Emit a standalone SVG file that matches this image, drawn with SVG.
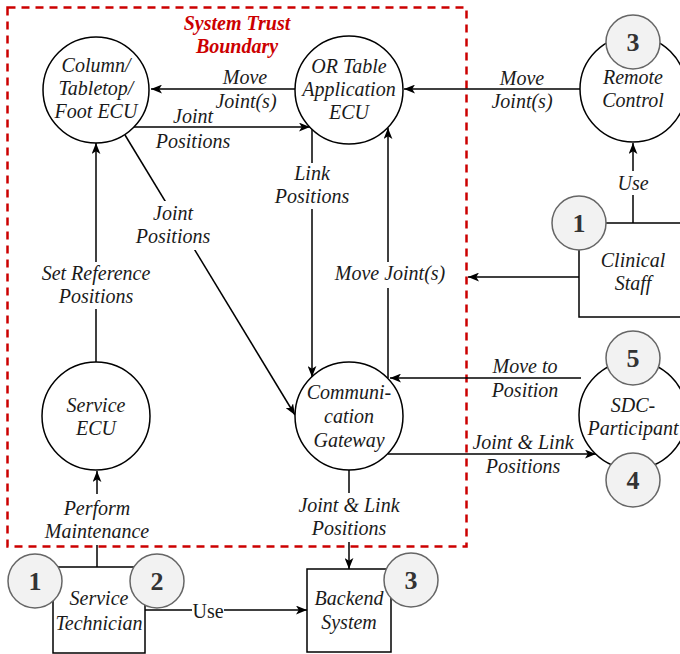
<svg xmlns="http://www.w3.org/2000/svg" width="680" height="654" viewBox="0 0 680 654">
  <style>
    .shape { fill: #ffffff; stroke: #000000; stroke-width: 1.5; }
    .badge { fill: #f2f2f2; stroke: #666666; stroke-width: 1.5; }
    .badge-num { font-family: "Liberation Serif", serif; font-weight: bold; font-size: 26px; fill: #333333; text-anchor: middle; }
    .lbl { font-family: "Liberation Serif", serif; font-style: italic; font-size: 20px; fill: #1a1a1a; text-anchor: middle; }
    .plain { font-family: "Liberation Serif", serif; font-size: 20px; fill: #1a1a1a; text-anchor: middle; }
    .wire { fill: none; stroke: #000000; stroke-width: 1.5; }
    .gap { fill: #ffffff; stroke: none; }
    .boundary { fill: none; stroke: #cc0000; stroke-width: 2.5; stroke-dasharray: 8 6; }
    .boundary-title { font-family: "Liberation Serif", serif; font-style: italic; font-weight: bold; font-size: 20px; fill: #cc0000; text-anchor: middle; }
  </style>
  <defs>
    <marker id="arrow" markerUnits="userSpaceOnUse" viewBox="0 0 10 8" refX="10" refY="4" markerWidth="11" markerHeight="9" orient="auto">
      <path d="M0,0 L10,4 L0,8 L2.5,4 Z" fill="#000000"/>
    </marker>
  </defs>

  <!-- trust boundary -->
  <g id="trust-boundary">
    <rect class="boundary" x="7.5" y="7.5" width="459" height="539"/>
    <text class="boundary-title" x="237" y="30">System Trust</text>
    <text class="boundary-title" x="237" y="53">Boundary</text>
  </g>

  <!-- connectors -->
  <g id="connectors">
    <!-- OR Table -> Column ECU -->
    <line class="wire" x1="295" y1="89" x2="151" y2="89" marker-end="url(#arrow)"/>
    <!-- Column ECU -> OR Table -->
    <line class="wire" x1="134" y1="127" x2="310" y2="127" marker-end="url(#arrow)"/>
    <!-- Remote Control -> OR Table -->
    <line class="wire" x1="580" y1="89" x2="404" y2="89" marker-end="url(#arrow)"/>
    <!-- Clinical Staff -> Remote Control -->
    <line class="wire" x1="633" y1="223" x2="633" y2="143" marker-end="url(#arrow)"/>
    <!-- Clinical Staff -> boundary -->
    <line class="wire" x1="579" y1="277" x2="468" y2="277" marker-end="url(#arrow)"/>
    <!-- Service ECU -> Column ECU -->
    <line class="wire" x1="96" y1="362" x2="96" y2="143" marker-end="url(#arrow)"/>
    <!-- Column ECU -> Gateway (diagonal) -->
    <line class="wire" x1="125" y1="135" x2="295" y2="415" marker-end="url(#arrow)"/>
    <!-- OR Table -> Gateway -->
    <line class="wire" x1="312" y1="129" x2="312" y2="377" marker-end="url(#arrow)"/>
    <!-- Gateway -> OR Table -->
    <line class="wire" x1="388" y1="378" x2="388" y2="128" marker-end="url(#arrow)"/>
    <!-- SDC -> Gateway -->
    <line class="wire" x1="581" y1="378" x2="390" y2="378" marker-end="url(#arrow)"/>
    <!-- Gateway -> SDC -->
    <line class="wire" x1="388" y1="454" x2="596" y2="454" marker-end="url(#arrow)"/>
    <!-- Gateway -> Backend -->
    <line class="wire" x1="349" y1="470" x2="349" y2="569" marker-end="url(#arrow)"/>
    <!-- Service Technician -> Service ECU -->
    <line class="wire" x1="97" y1="567" x2="97" y2="471" marker-end="url(#arrow)"/>
    <!-- Service Technician -> Backend -->
    <line class="wire" x1="145" y1="610" x2="307" y2="610" marker-end="url(#arrow)"/>

    <!-- label backgrounds -->
    <rect class="gap" x="36" y="262" width="122" height="47"/>
    <rect class="gap" x="617" y="171" width="32" height="24"/>
    <rect class="gap" x="276" y="163" width="72" height="46"/>
    <rect class="gap" x="330" y="262" width="116" height="26"/>
    <rect class="gap" x="134" y="201" width="80" height="49"/>
    <rect class="gap" x="40" y="494" width="114" height="51"/>
    <rect class="gap" x="296" y="493" width="106" height="49"/>
    <rect class="gap" x="192" y="598" width="32" height="24"/>

    <!-- connector labels -->
    <text class="lbl" x="245" y="84">Move</text>
    <text class="lbl" x="246" y="108">Joint(s)</text>
    <text class="lbl" x="193" y="123">Joint</text>
    <text class="lbl" x="193" y="148">Positions</text>
    <text class="lbl" x="522" y="85">Move</text>
    <text class="lbl" x="522" y="108">Joint(s)</text>
    <text class="lbl" x="633" y="190">Use</text>
    <text class="lbl" x="96" y="280">Set Reference</text>
    <text class="lbl" x="96" y="303">Positions</text>
    <text class="lbl" x="173" y="220">Joint</text>
    <text class="lbl" x="173" y="243">Positions</text>
    <text class="lbl" x="312" y="180">Link</text>
    <text class="lbl" x="312" y="203">Positions</text>
    <text class="lbl" x="390" y="280">Move Joint(s)</text>
    <text class="lbl" x="525" y="373">Move to</text>
    <text class="lbl" x="525" y="397">Position</text>
    <text class="lbl" x="523" y="449">Joint &amp; Link</text>
    <text class="lbl" x="523" y="473">Positions</text>
    <text class="lbl" x="349" y="512">Joint &amp; Link</text>
    <text class="lbl" x="349" y="535">Positions</text>
    <text class="lbl" x="97" y="515">Perform</text>
    <text class="lbl" x="97" y="538">Maintenance</text>
    <text class="plain" x="208" y="618">Use</text>
  </g>

  <!-- processes -->
  <g id="column-ecu">
    <circle class="shape" cx="96" cy="90" r="53"/>
    <text class="lbl" x="96" y="72">Column/</text>
    <text class="lbl" x="96" y="95">Tabletop/</text>
    <text class="lbl" x="96" y="118">Foot ECU</text>
  </g>

  <g id="or-table-ecu">
    <circle class="shape" cx="349" cy="90" r="54"/>
    <text class="lbl" x="349" y="73">OR Table</text>
    <text class="lbl" x="349" y="96">Application</text>
    <text class="lbl" x="349" y="119">ECU</text>
  </g>

  <g id="service-ecu">
    <circle class="shape" cx="96" cy="416" r="54"/>
    <text class="lbl" x="96" y="412">Service</text>
    <text class="lbl" x="96" y="435">ECU</text>
  </g>

  <g id="communication-gateway">
    <circle class="shape" cx="349" cy="416" r="54"/>
    <text class="lbl" x="349" y="399">Communi-</text>
    <text class="lbl" x="349" y="423">cation</text>
    <text class="lbl" x="349" y="447">Gateway</text>
  </g>

  <!-- external entities -->
  <g id="remote-control">
    <circle class="shape" cx="633" cy="89" r="53"/>
    <text class="lbl" x="633" y="84">Remote</text>
    <text class="lbl" x="633" y="107">Control</text>
    <circle class="badge" cx="633" cy="42" r="27"/>
    <text class="badge-num" x="633" y="51">3</text>
  </g>

  <g id="clinical-staff">
    <rect class="shape" x="579" y="223" width="120" height="94"/>
    <text class="lbl" x="633" y="267">Clinical</text>
    <text class="lbl" x="633" y="290">Staff</text>
    <circle class="badge" cx="579" cy="223" r="27"/>
    <text class="badge-num" x="579" y="232">1</text>
  </g>

  <g id="sdc-participant">
    <circle class="shape" cx="633" cy="415" r="54"/>
    <text class="lbl" x="633" y="412">SDC-</text>
    <text class="lbl" x="633" y="435">Participant</text>
    <circle class="badge" cx="633" cy="358" r="27"/>
    <text class="badge-num" x="633" y="367">5</text>
    <circle class="badge" cx="633" cy="480" r="27"/>
    <text class="badge-num" x="633" y="489">4</text>
  </g>

  <g id="service-technician">
    <rect class="shape" x="53" y="567" width="92" height="86"/>
    <text class="lbl" x="99" y="605">Service</text>
    <text class="lbl" x="99" y="630">Technician</text>
    <circle class="badge" cx="35" cy="581" r="27"/>
    <text class="badge-num" x="35" y="590">1</text>
    <circle class="badge" cx="157" cy="581" r="27"/>
    <text class="badge-num" x="157" y="590">2</text>
  </g>

  <g id="backend-system">
    <rect class="shape" x="307" y="569" width="84" height="83"/>
    <text class="lbl" x="349" y="605">Backend</text>
    <text class="lbl" x="349" y="629">System</text>
    <circle class="badge" cx="411" cy="580" r="27"/>
    <text class="badge-num" x="411" y="589">3</text>
  </g>
</svg>
